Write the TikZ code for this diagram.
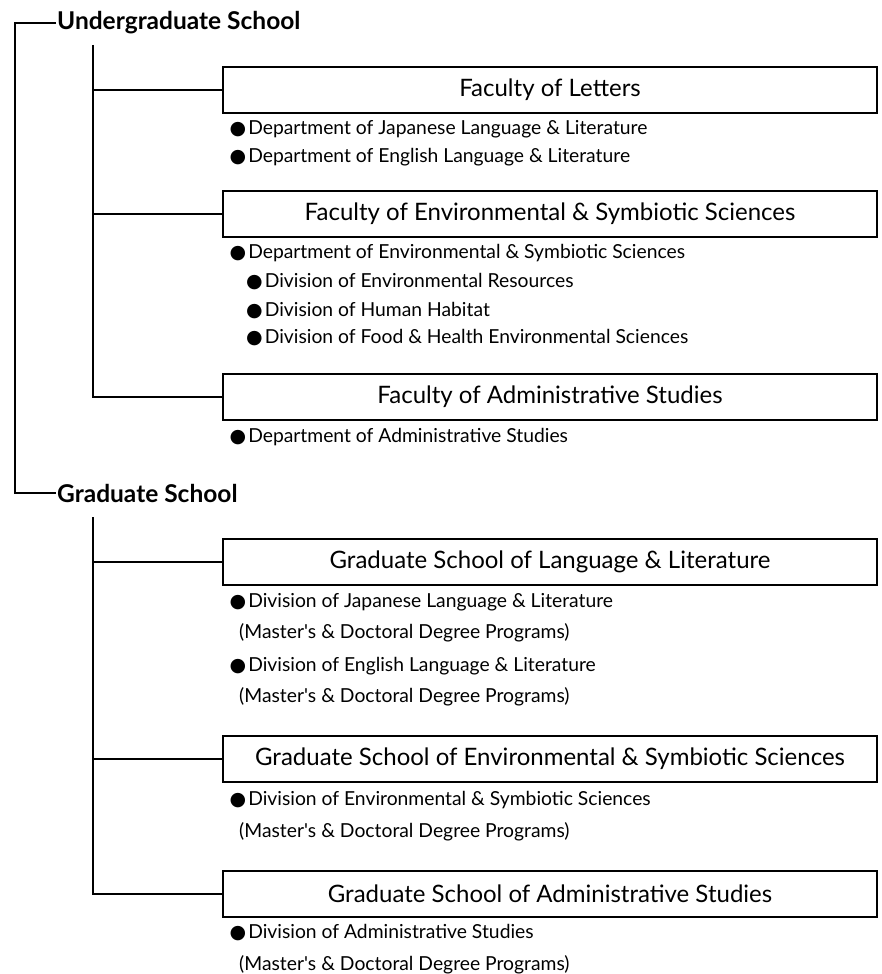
\documentclass[tikz,border=0pt]{standalone}
\usepackage{fontspec}
\setmainfont{Lato}
\newfontfamily\dotfont{DejaVu Sans}
\usetikzlibrary{positioning}
\newcommand{\bul}{{\dotfont\fontsize{19}{20}\selectfont ●}\hspace{2pt}}
\newcommand{\mdp}{(Master\textquotesingle s \& Doctoral Degree Programs)}

\begin{document}
\begin{tikzpicture}[x=1pt, y=-1pt,
    school/.style={anchor=west, inner sep=1pt, font=\fontsize{24.5}{27}\selectfont\bfseries},
    unit/.style={draw, line width=2pt, anchor=west, minimum width=654pt, minimum height=46pt, inner sep=0pt, font=\fontsize{24}{27}\selectfont},
    entry/.style={anchor=west, inner sep=0pt, text height=14pt, text depth=4pt, font=\fontsize{19.3}{21}\selectfont},
    link/.style={line width=2pt}]
        \useasboundingbox (0,0) rectangle (882,974);
        % schools
        \node[school] (ug) at (56,23) {Undergraduate School};
        \node[school] (gr) at (56,493) {Graduate School};
        \draw[link] (ug.west) -- ++(-41,0) |- (gr.west);
        % undergraduate faculties
        \coordinate (ugtop) at (93,45);
        \node[unit] (let) at (222,90) {Faculty of Letters};
        \node[unit] (env) at (222,214) {Faculty of Environmental \& Symbiotic Sciences};
        \node[unit] (adm) at (222,397) {Faculty of Administrative Studies};
        \draw[link] (ugtop) |- (adm.west);
        \draw[link] (let.west) -- (let.west -| ugtop);
        \draw[link] (env.west) -- (env.west -| ugtop);
        \node[entry] (let1) at (229.5,129) {\bul Department of Japanese Language \& Literature};
        \node[entry] (let2) at (229.5,157) {\bul Department of English Language \& Literature};
        \node[entry] (env1) at (229.5,253) {\bul Department of Environmental \& Symbiotic Sciences};
        \node[entry] (env2) at (246,282) {\bul Division of Environmental Resources};
        \node[entry] (env3) at (246,311) {\bul Division of Human Habitat};
        \node[entry] (env4) at (246,338) {\bul Division of Food \& Health Environmental Sciences};
        \node[entry] (adm1) at (229.5,437) {\bul Department of Administrative Studies};
        % graduate schools
        \coordinate (grtop) at (93,517);
        \node[unit] (glit) at (222,562) {Graduate School of Language \& Literature};
        \node[unit] (genv) at (222,759) {Graduate School of Environmental \& Symbiotic Sciences};
        \node[unit] (gadm) at (222,894) {Graduate School of Administrative Studies};
        \draw[link] (grtop) |- (gadm.west);
        \draw[link] (glit.west) -- (glit.west -| grtop);
        \draw[link] (genv.west) -- (genv.west -| grtop);
        \node[entry] (glit1) at (229.5,602) {\bul Division of Japanese Language \& Literature};
        \node[entry] (glit2) at (239,633) {\mdp};
        \node[entry] (glit3) at (229.5,666) {\bul Division of English Language \& Literature};
        \node[entry] (glit4) at (239,697) {\mdp};
        \node[entry] (genv1) at (229.5,800) {\bul Division of Environmental \& Symbiotic Sciences};
        \node[entry] (genv2) at (239,832) {\mdp};
        \node[entry] (gadm1) at (229.5,933) {\bul Division of Administrative Studies};
        \node[entry] (gadm2) at (239,965) {\mdp};
\end{tikzpicture}
\end{document}
